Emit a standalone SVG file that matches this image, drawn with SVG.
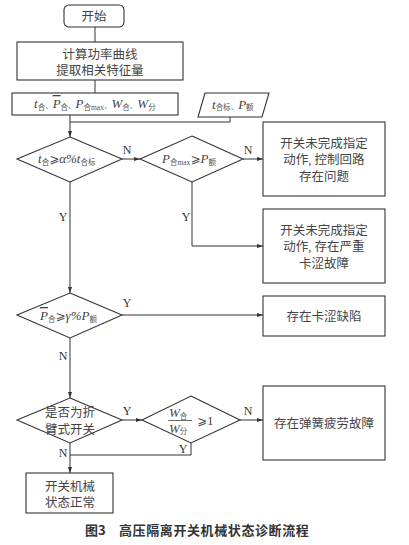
<svg xmlns="http://www.w3.org/2000/svg" width="409" height="545" viewBox="0 0 409 545">
<defs>
<marker id="arr" markerWidth="6" markerHeight="4" refX="6" refY="2" orient="auto" markerUnits="userSpaceOnUse">
<path d="M0,0 L6,2 L0,4 z" fill="#333"/>
</marker>
<style>
.sh{fill:#fff;stroke:#333;stroke-width:1.1}
.cn{fill:none;stroke:#333;stroke-width:1}
.t{font-family:"Liberation Serif","Noto Sans CJK SC",serif;font-size:12.5px;fill:#444;text-anchor:middle}
.m{font-family:"Liberation Serif","DejaVu Serif",serif;font-style:italic;font-size:13px;fill:#444}
.s{font-family:"Liberation Serif","Noto Sans CJK SC",serif;font-style:normal;font-size:7.5px;fill:#555}
.lb{font-family:"Liberation Serif",serif;font-size:12px;fill:#333;text-anchor:middle}
.ge{font-family:"DejaVu Sans","Liberation Serif",sans-serif;font-style:normal;font-size:12px;fill:#444}
.cap{font-family:"Noto Sans CJK SC","Liberation Sans",sans-serif;font-weight:bold;font-size:13px;fill:#333}
</style>
</defs>
<rect width="409" height="545" fill="#fff"/>

<g id="connectors">
<path class="cn" d="M95,27 V42"/>
<path class="cn" d="M95,80 V93"/>
<path class="cn" d="M70,115 V137" marker-end="url(#arr)"/>
<path class="cn" d="M230,117 V122 H70"/>
<path class="cn" d="M122,159 H140" marker-end="url(#arr)"/>
<path class="cn" d="M243,159 H263" marker-end="url(#arr)"/>
<path class="cn" d="M192,182 V246 H263" marker-end="url(#arr)"/>
<path class="cn" d="M70,182 V293" marker-end="url(#arr)"/>
<path class="cn" d="M122,315 H263" marker-end="url(#arr)"/>
<path class="cn" d="M70,338 V398" marker-end="url(#arr)"/>
<path class="cn" d="M122,420 H142" marker-end="url(#arr)"/>
<path class="cn" d="M240,420 H263" marker-end="url(#arr)"/>
<path class="cn" d="M191,443 V455 H70"/>
<path class="cn" d="M70,443 V473" marker-end="url(#arr)"/>
<text class="lb" x="127" y="154">N</text>
<text class="lb" x="248" y="154">N</text>
<text class="lb" x="186" y="221">Y</text>
<text class="lb" x="63" y="221">Y</text>
<text class="lb" x="127" y="307">Y</text>
<text class="lb" x="63" y="360">N</text>
<text class="lb" x="127" y="415">Y</text>
<text class="lb" x="248" y="415">N</text>
<text class="lb" x="183" y="453">Y</text>
<text class="lb" x="63" y="457">N</text>
</g>

<g id="start">
<rect class="sh" x="64" y="5" width="60" height="22" rx="5"/>
<text class="t" x="94" y="20.5">开始</text>
</g>

<g id="calc">
<rect class="sh" x="17" y="42" width="166" height="38"/>
<text class="t" x="100" y="59">计算功率曲线</text>
<text class="t" x="100" y="75">提取相关特征量</text>
</g>

<g id="features">
<rect class="sh" x="12" y="93" width="166" height="22"/>
<text x="34" y="108" class="m" word-spacing="1">t<tspan class="s" dy="1.5">合</tspan><tspan class="s" dy="-1.5">、</tspan><tspan text-decoration="overline">P</tspan><tspan class="s" dy="1.5">合</tspan><tspan class="s" dy="-1.5">、</tspan>P<tspan class="s" dy="1.5">合max</tspan><tspan class="s" dy="-1.5">、</tspan>W<tspan class="s" dy="1.5">合</tspan><tspan class="s" dy="-1.5">、</tspan>W<tspan class="s" dy="1.5">分</tspan></text>
</g>

<g id="params">
<polygon class="sh" points="205,93 269,93 262,117 198,117"/>
<text x="212" y="108.5" class="m">t<tspan class="s" dy="1.5">合标</tspan><tspan class="s" dy="-1.5">、</tspan>P<tspan class="s" dy="1.5">额</tspan></text>
</g>

<g id="d1">
<polygon class="sh" points="70,137 122,159 70,182 17,159"/>
<text x="38" y="163" class="m">t<tspan class="s" dy="1.5">合</tspan><tspan class="ge" dy="-1.5">⩾</tspan>α%t<tspan class="s" dy="1.5">合标</tspan></text>
</g>

<g id="d2">
<polygon class="sh" points="192,136 243,159 192,182 140,159"/>
<text x="162" y="163" class="m">P<tspan class="s" dy="1.5">合max</tspan><tspan class="ge" dy="-1.5">⩾</tspan>P<tspan class="s" dy="1.5">额</tspan></text>
</g>

<g id="r1">
<rect class="sh" x="263" y="122" width="122" height="74"/>
<text class="t" x="324" y="147.5">开关未完成指定</text>
<text class="t" x="324" y="164">动作, 控制回路</text>
<text class="t" x="324" y="180.5">存在问题</text>
</g>

<g id="r2">
<rect class="sh" x="263" y="209" width="122" height="74"/>
<text class="t" x="324" y="234.5">开关未完成指定</text>
<text class="t" x="324" y="251">动作, 存在严重</text>
<text class="t" x="324" y="267.5">卡涩故障</text>
</g>

<g id="d3">
<polygon class="sh" points="70,293 122,315 70,338 17,315"/>
<text x="40" y="320" class="m"><tspan text-decoration="overline">P</tspan><tspan class="s" dy="1.5">合</tspan><tspan class="ge" dy="-1.5">⩾</tspan>γ%P<tspan class="s" dy="1.5">额</tspan></text>
</g>

<g id="r3">
<rect class="sh" x="263" y="296" width="122" height="40"/>
<text class="t" x="324" y="320.5">存在卡涩缺陷</text>
</g>

<g id="d4">
<polygon class="sh" points="70,398 122,420 70,443 17,420"/>
<text class="t" x="70" y="417">是否为折</text>
<text class="t" x="70" y="434">臂式开关</text>
</g>

<g id="d5">
<polygon class="sh" points="191,396 240,420 191,443 142,420"/>
<text x="169" y="417" class="m">W<tspan class="s" dy="1.5">合</tspan></text>
<line x1="168" y1="420.5" x2="192" y2="420.5" stroke="#444" stroke-width="0.8"/>
<text x="169" y="432.5" class="m">W<tspan class="s" dy="1.5">分</tspan></text>
<text x="197" y="425" class="m"><tspan class="ge">⩾</tspan><tspan font-style="normal">1</tspan></text>
</g>

<g id="r4">
<rect class="sh" x="263" y="386" width="122" height="74"/>
<text class="t" x="324" y="427.5">存在弹簧疲劳故障</text>
</g>

<g id="normal">
<rect class="sh" x="26" y="473" width="87" height="40"/>
<text class="t" x="70" y="491">开关机械</text>
<text class="t" x="70" y="507">状态正常</text>
</g>

<text class="cap" x="85" y="535">图3<tspan x="119" letter-spacing="0.6">高压隔离开关机械状态诊断流程</tspan></text>
</svg>
